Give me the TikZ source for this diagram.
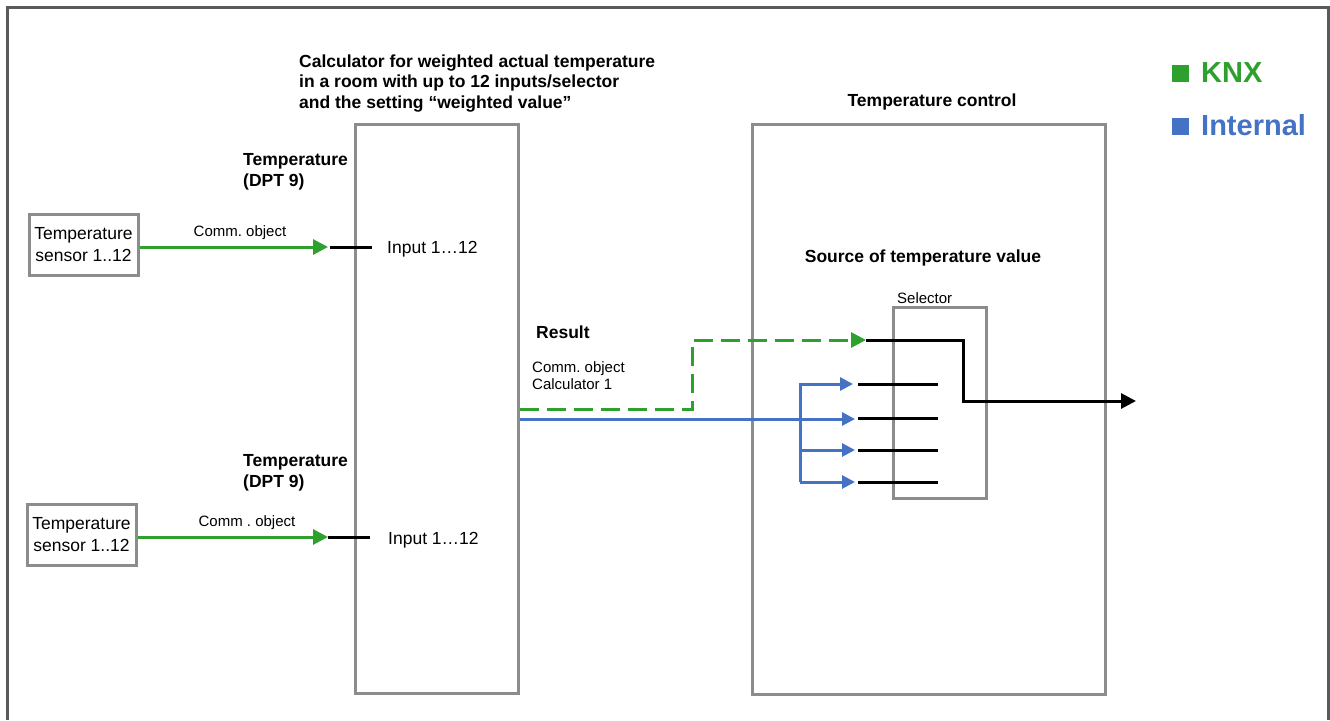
\documentclass[tikz,border=0pt]{standalone}
\usepackage{fontspec}
\setmainfont{Liberation Sans}
\usetikzlibrary{arrows.meta}
\definecolor{knx}{RGB}{46,160,46}
\definecolor{intl}{RGB}{68,114,196}
\definecolor{boxgray}{RGB}{140,140,140}
\definecolor{framegray}{RGB}{90,90,90}
\frenchspacing
\begin{document}
\begin{tikzpicture}[x=1pt,y=-1pt,
  box/.style={draw=boxgray, line width=3pt, inner sep=0pt},
  txt/.style={inner sep=0pt, font=\fontsize{17.5}{22}\selectfont},
  btxt/.style={inner sep=0pt, font=\fontsize{17.5}{22}\selectfont\bfseries},
  stxt/.style={inner sep=0pt, font=\fontsize{15}{18}\selectfont},
  ltxt/.style={inner sep=0pt, font=\fontsize{29}{34}\selectfont\bfseries},
  gline/.style={draw=knx, line width=3pt},
  bline/.style={draw=intl, line width=3pt},
  kline/.style={draw=black, line width=3pt},
  gtip/.style={-{Triangle[length=15pt,width=15pt]}},
  btip/.style={-{Triangle[length=13pt,width=13pt]}},
  ktip/.style={-{Triangle[length=15pt,width=15pt]}},
  gdash/.style={dash pattern=on 19pt off 8pt}
]
\useasboundingbox (0,0) rectangle (1330,720);
% outer frame
\draw[framegray, line width=3pt] (7,720) -- (7,7) -- (1328,7) -- (1328,720);

% boxes
\node[box, minimum width=109pt, minimum height=61pt, align=center, txt] (s1) at (83.5,244.5) {Temperature\\sensor 1..12};
\node[box, minimum width=109pt, minimum height=61pt, align=center, txt] (s2) at (81.5,534.5) {Temperature\\sensor 1..12};
\node[box, minimum width=163pt, minimum height=569pt] (calc) at (436.5,408.5) {};
\node[box, minimum width=353pt, minimum height=570pt] (ctrl) at (928.5,409) {};
\node[box, minimum width=93pt, minimum height=191pt] (sel) at (939.5,402.5) {};

% texts
\node[btxt, anchor=base west] (t1) at (299,67) {Calculator for weighted actual temperature};
\node[btxt, anchor=base west] (t2) at (299,87) {in a room with up to 12 inputs/selector};
\node[btxt, anchor=base west] (t3) at (299,108) {and the setting “weighted value”};
\node[btxt, anchor=base west] (d1a) at (243,165) {Temperature};
\node[btxt, anchor=base west] (d1b) at (243,186) {(DPT 9)};
\node[btxt, anchor=base west] (d2a) at (243,466) {Temperature};
\node[btxt, anchor=base west] (d2b) at (243,487) {(DPT 9)};
\node[stxt, anchor=base] (c1) at (240,236) {Comm. object};
\node[stxt, anchor=base] (c2) at (247,526) {Comm . object};
\node[txt, anchor=base west] (i1) at (387,253) {Input 1…12};
\node[txt, anchor=base west] (i2) at (388,544) {Input 1…12};
\node[btxt, anchor=base west] (res) at (536,338) {Result};
\node[stxt, anchor=base west] (r1) at (532,372) {Comm. object};
\node[stxt, anchor=base west] (r2) at (532,389) {Calculator 1};
\node[btxt, anchor=base] (tc) at (932,106) {Temperature control};
\node[btxt, anchor=base] (src) at (923,262) {Source of temperature value};
\node[stxt, anchor=base west] (seltxt) at (897,303) {Selector};

% legend
\node[fill=knx, minimum size=17pt, inner sep=0pt] (lk) at (1180.5,73) {};
\node[ltxt, text=knx, anchor=base west] (lkt) at (1201,82) {KNX};
\node[fill=intl, minimum size=17pt, inner sep=0pt] (li) at (1180.5,126) {};
\node[ltxt, text=intl, anchor=base west] (lit) at (1201,135) {Internal};

% coordinates
\coordinate (a1) at (328,247);
\coordinate (k1a) at (330,247);
\coordinate (k1b) at (372,247);
\coordinate (a2) at (328,537);
\coordinate (k2a) at (328,537);
\coordinate (k2b) at (370,537);
\coordinate (gd1) at (692,409);
\coordinate (gd2) at (692,340);
\coordinate (gtipc) at (866,340);
\coordinate (kc1) at (963,340);
\coordinate (kc2) at (963,401);
\coordinate (kend) at (1136,401);
\coordinate (bv) at (800,419);
\coordinate (bvt) at (800,384);
\coordinate (bvb) at (800,482);
\coordinate (b3) at (800,450);
\coordinate (ba1) at (853,384);
\coordinate (ba2) at (855,419);
\coordinate (ba3) at (855,450);
\coordinate (ba4) at (855,482);
\foreach \n/\y in {1/384,2/418,3/450,4/482}{
  \coordinate (kl\n a) at (858,\y);
  \coordinate (kl\n b) at (938,\y);
}

% connectors
\draw[gline, gtip] (s1.east |- a1) -- (a1);
\draw[kline] (k1a) -- (k1b);
\draw[gline, gtip] (s2.east |- a2) -- (a2);
\draw[kline] (k2a) -- (k2b);

\draw[gline, gdash, gtip] (calc.east |- gd1) -- (gd1) -- (gd2) -- (gtipc);
\draw[kline, ktip] (gtipc) -- (kc1) -- (kc2) -- (kend);

\draw[bline, btip] (calc.east |- bv) -- (ba2);
\draw[bline, btip] (bvb) -- (bvt) -- (ba1);
\draw[bline, btip] (b3) -- (ba3);
\draw[bline, btip] (bvb) -- (ba4);
\foreach \n in {1,2,3,4}{
  \draw[kline] (kl\n a) -- (kl\n b);
}
\end{tikzpicture}
\end{document}
